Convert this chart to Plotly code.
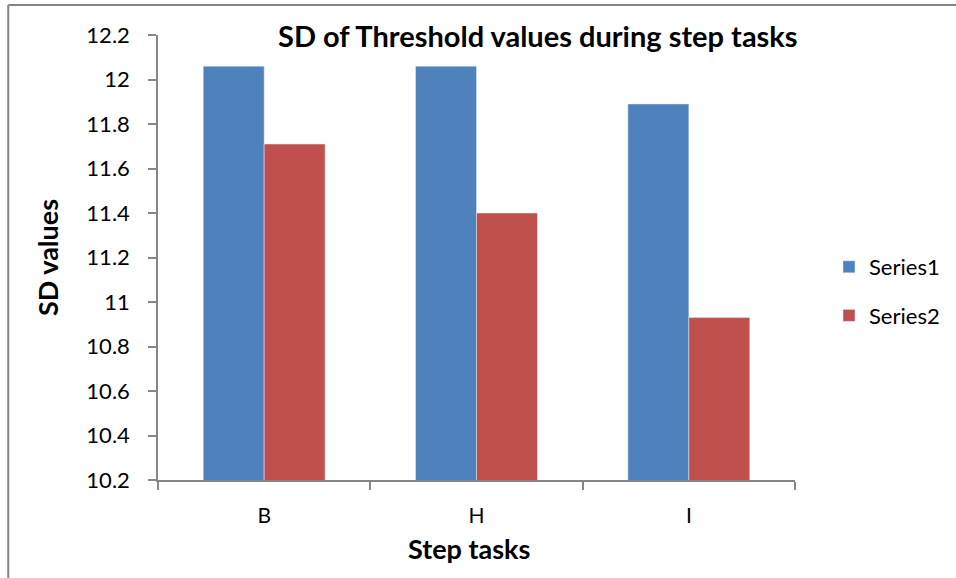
import plotly.graph_objects as go

categories = ["B", "H", "I"]
series1 = [12.06, 12.06, 11.89]
series2 = [11.71, 11.40, 10.93]
y_ticks = [10.2, 10.4, 10.6, 10.8, 11.0, 11.2, 11.4, 11.6, 11.8, 12.0, 12.2]
y_tick_text = ["10.2", "10.4", "10.6", "10.8", "11", "11.2", "11.4", "11.6", "11.8", "12", "12.2"]

W, H = 956, 578
L, R, T, B = 158, 160, 35, 98
pw, ph = W - L - R, H - T - B

def px_x(x):
    return (x - L) / pw

def px_y(y):
    return (H - B - y) / ph

FONT = "Lato, Carlito, Calibri, sans-serif"
GREY = "#868686"

fig = go.Figure()
fig.add_trace(go.Bar(x=categories, y=series1, name="Series1", marker_color="#4F81BD",
                     legendgroup="s1"))
fig.add_trace(go.Bar(x=categories, y=series2, name="Series2", marker_color="#C0504D",
                     legendgroup="s2"))

fig.update_layout(
    width=W, height=H,
    margin=dict(l=L, r=R, t=T, b=B),
    paper_bgcolor="white", plot_bgcolor="white",
    font=dict(family=FONT, size=22, color="black"),
    barmode="group", bargap=0.426, bargroupgap=0,
    showlegend=True,
    legend=dict(x=px_x(829), y=px_y(246), xanchor="left", yanchor="top",
                font=dict(size=22), tracegroupgap=17, traceorder="grouped",
                bgcolor="rgba(0,0,0,0)"),
)

fig.update_xaxes(
    showline=True, linecolor=GREY, linewidth=1.5,
    ticks="outside", tickson="boundaries", ticklen=8, tickcolor=GREY, tickwidth=1.5,
    ticklabelstandoff=16,
    tickfont=dict(size=21),
    showgrid=False,
)
fig.update_yaxes(
    range=[10.2, 12.2], tickvals=y_ticks, ticktext=y_tick_text,
    showline=True, linecolor=GREY, linewidth=1.5,
    ticks="outside", ticklen=8, tickcolor=GREY, tickwidth=1.5,
    ticklabelstandoff=14,
    tickfont=dict(size=22),
    showgrid=False, zeroline=False,
    title=dict(text="<b>SD values</b>", font=dict(size=27), standoff=20),
)

# chart title
fig.add_annotation(text="<b>SD of Threshold values during step tasks</b>",
                   xref="paper", yref="paper", x=px_x(539), y=px_y(36),
                   xanchor="center", yanchor="middle", showarrow=False,
                   font=dict(size=29, family=FONT))

# x-axis title
fig.add_annotation(text="<b>Step tasks</b>",
                   xref="paper", yref="paper", x=px_x(469), y=px_y(548),
                   xanchor="center", yanchor="middle", showarrow=False,
                   font=dict(size=27, family=FONT))

# outer chart frame (left and top edges)
fig.add_shape(type="line", xref="paper", yref="paper",
              x0=px_x(8), x1=px_x(8), y0=px_y(5), y1=px_y(H + 5),
              line=dict(color=GREY, width=2))
fig.add_shape(type="line", xref="paper", yref="paper",
              x0=px_x(8), x1=px_x(W + 5), y0=px_y(5), y1=px_y(5),
              line=dict(color=GREY, width=2))

fig.write_html("out.html")
